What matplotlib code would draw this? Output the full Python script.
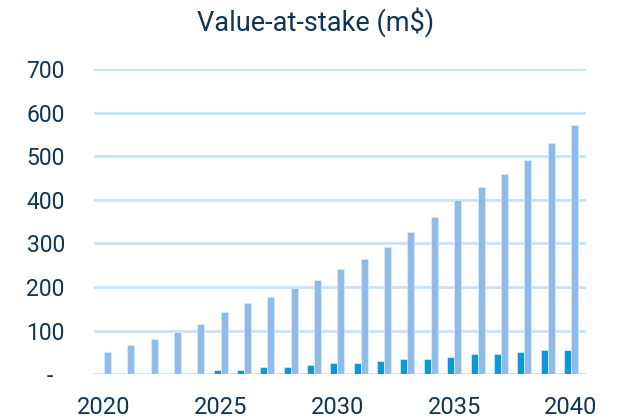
import matplotlib.pyplot as plt
import numpy as np

years = list(range(2020, 2041))
light_vals = [51, 67, 81, 97, 116, 142, 162, 177, 197, 216, 240, 264,
              292, 326, 360, 400, 429, 458, 492, 531, 571]
dark_vals = [0, 0, 0, 0, 0, 10, 10, 16, 16, 21, 26, 26,
             30, 35, 35, 40, 45, 45, 50, 55, 55]
y_ticks = [0, 100, 200, 300, 400, 500, 600, 700]
y_labels = ['-  ', '100', '200', '300', '400', '500', '600', '700']
x_ticks = [2020, 2025, 2030, 2035, 2040]

plt.rcParams['font.family'] = ['Roboto', 'DejaVu Sans']
text_color = '#0f3554'

fig = plt.figure(figsize=(6.18, 4.18), dpi=100)
ax = fig.add_axes([0.152, 0.105, 0.796, 0.73])

x = np.array(years)
w = 0.3
ax.bar(x - w / 2, dark_vals, width=w, color='#0a98d8', edgecolor='#d8eefa', linewidth=0.5, zorder=3)
ax.bar(x + w / 2, light_vals, width=w, color='#8fbbe6', edgecolor='#d8eefa', linewidth=0.5, zorder=3)

ax.set_ylim(0, 700)
ax.set_xlim(2019.57, 2040.64)
ax.set_yticks(y_ticks)
ax.set_yticklabels(y_labels)
ax.set_xticks(x_ticks)
ax.set_xticklabels([str(t) for t in x_ticks])
ax.yaxis.grid(True, color='#c6e4f8', linewidth=2, zorder=0)
ax.set_axisbelow(True)
for s in ax.spines.values():
    s.set_visible(False)
ax.tick_params(axis='both', length=0, colors=text_color)
ax.tick_params(axis='y', pad=21, labelsize=16.5)
ax.tick_params(axis='x', pad=16, labelsize=17)

fig.text(0.511, 0.947, 'Value-at-stake (m$)', ha='center', va='center', fontsize=19.5, color=text_color)

fig.savefig('out.png', dpi=100)
